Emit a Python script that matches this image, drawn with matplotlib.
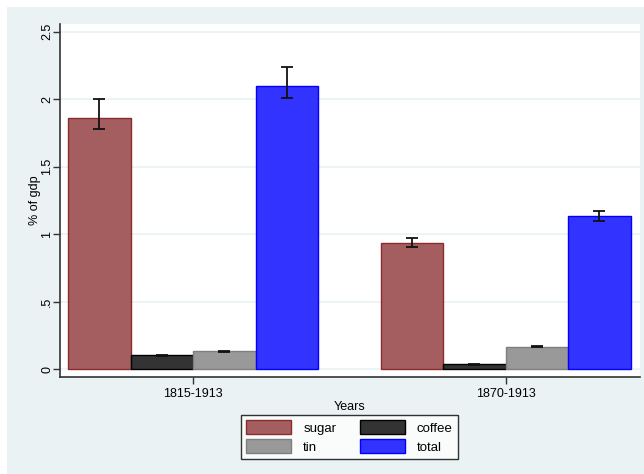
import matplotlib.pyplot as plt
from matplotlib.patches import Rectangle
import numpy as np

plt.rcParams['font.family'] = ['Liberation Sans', 'DejaVu Sans']

periods = ["1815-1913", "1870-1913"]
series = ["sugar", "coffee", "tin", "total"]
means = {
    "sugar":  [1.86, 0.935],
    "coffee": [0.104, 0.039],
    "tin":    [0.134, 0.167],
    "total":  [2.10, 1.135],
}
lower = {
    "sugar":  [1.78, 0.903],
    "coffee": [0.099, 0.036],
    "tin":    [0.131, 0.164],
    "total":  [2.01, 1.10],
}
upper = {
    "sugar":  [2.00, 0.973],
    "coffee": [0.109, 0.042],
    "tin":    [0.137, 0.170],
    "total":  [2.24, 1.176],
}
y_ticks = [0, 0.5, 1, 1.5, 2, 2.5]
y_tick_labels = ["0", ".5", "1", "1.5", "2", "2.5"]

face = {"sugar": "#a45e60", "coffee": "#333333", "tin": "#999999", "total": "#3333ff"}
edge = {"sugar": "#8c2b2e", "coffee": "#000000", "tin": "#7f7f7f", "total": "#0000ff"}
bg = "#eaf2f3"

fig = plt.figure(figsize=(6.44, 4.74), dpi=100)
fig.patch.set_facecolor("white")
fig.add_artist(Rectangle((7 / 644, 0), 1, 1 - 7 / 474, transform=fig.transFigure,
                         facecolor=bg, edgecolor="none", zorder=-10))

ax = fig.add_axes([60 / 644, 1 - 377 / 474, 580 / 644, 353 / 474])
ax.set_facecolor("white")

group_start = [0, 5]
bars = {}
for i, name in enumerate(series):
    xs = [g + i for g in group_start]
    m = np.array(means[name])
    err = [m - np.array(lower[name]), np.array(upper[name]) - m]
    bars[name] = ax.bar(xs, m, width=1.0, color=face[name], edgecolor=edge[name],
                        linewidth=1.0, label=name, zorder=2)
    ax.errorbar(xs, m, yerr=err, fmt="none", ecolor="#111111",
                elinewidth=1.3, capsize=4, capthick=1.3, zorder=3)

ax.set_xlim(-0.63, 8.65)
ax.set_ylim(-0.056, 2.556)
ax.set_xticks([1.5, 6.5])
ax.set_xticklabels(periods, fontsize=9)
ax.set_yticks(y_ticks)
ax.set_yticklabels(y_tick_labels, rotation=90, va="center", fontsize=9)
ax.yaxis.grid(True, color=bg, linewidth=1.2, zorder=0)
ax.set_axisbelow(True)
ax.tick_params(axis="x", direction="out", length=5, width=1, color="#333333", pad=3)
ax.tick_params(axis="y", direction="out", length=5, width=1, color="#333333", pad=0)
for side in ["top", "right"]:
    ax.spines[side].set_visible(False)
for side in ["left", "bottom"]:
    ax.spines[side].set_color("#333333")
    ax.spines[side].set_linewidth(1.2)

ax.set_xlabel("Years", fontsize=9, labelpad=1)
ax.set_ylabel("% of gdp", fontsize=9, labelpad=0)

# legend fills column-first, so order entries to read sugar/coffee, tin/total by row
order = ["sugar", "tin", "coffee", "total"]
leg = fig.legend([bars[n] for n in order], order,
                 ncol=2, loc="center", bbox_to_anchor=(349.5 / 644, 1 - 437 / 474),
                 fontsize=9.5, frameon=True, fancybox=False, edgecolor="black",
                 handlelength=3.4, handleheight=1.2, columnspacing=1.8,
                 handletextpad=0.9, labelspacing=0.35, borderpad=0.4)
leg.get_frame().set_linewidth(1.0)

plt.savefig("out.png", dpi=100, facecolor=fig.get_facecolor())
